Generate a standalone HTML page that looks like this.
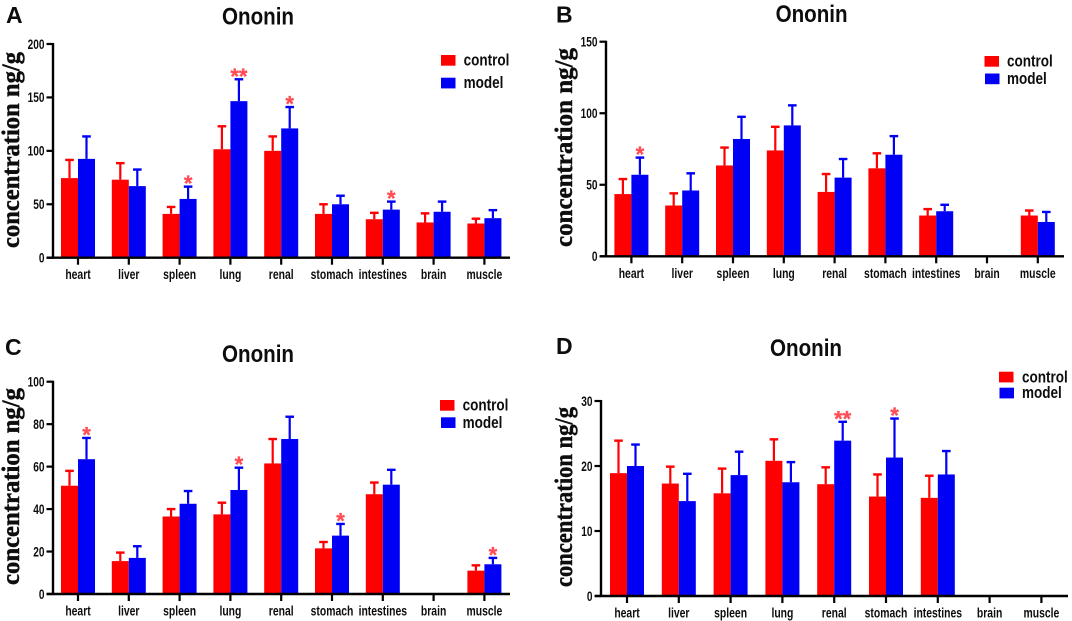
<!DOCTYPE html>
<html lang="en">
<head>
<meta charset="utf-8">
<title>Ononin concentration charts</title>
<style>
html,body{margin:0;padding:0;background:#fff;width:1072px;height:621px;overflow:hidden}
svg{display:block}
text{font-family:"Liberation Sans",sans-serif;fill:#111}
</style>
</head>
<body>
<svg id="chart" xmlns="http://www.w3.org/2000/svg" width="1072" height="621" viewBox="0 0 1072 621">
<defs><filter id="soft" x="-2%" y="-2%" width="104%" height="104%"><feGaussianBlur stdDeviation="0.35"/></filter></defs>
<g id="root" filter="url(#soft)"></g>
</svg>
<script>
const categories = ['heart','liver','spleen','lung','renal','stomach','intestines','brain','muscle'];
const seriesNames = ['control','model'];

const controlA = [74.5,73,41,101.5,100,41,36,33,32];
const controlTopA = [91.5,88.5,47.5,123,113.5,50,42,41.5,36.5];
const modelA = [92.5,67,55,146.5,121,50,45,43,37];
const modelTopA = [113.5,82.5,66.5,167,141,58,52.5,52.5,44.5];
const starsA = ['','','*','**','*','','*','',''];
const ticksA = [0,50,100,150,200];

const controlB = [43.5,35.5,63.5,74,45,61.5,28.5,0,28.5];
const controlTopB = [54,44,76,90.5,57.5,72,33,0,32];
const modelB = [57,46,82,91.5,55,71,31.5,0,24];
const modelTopB = [69,58,97.5,105.5,68,84,36,0,31];
const starsB = ['*','','','','','','','',''];
const ticksB = [0,50,100,150];

const controlC = [51,15.5,36.5,37.5,61.5,21.5,47,0,11];
const controlTopC = [58,19.5,40,43,73,24.5,52.5,0,13.5];
const modelC = [63.5,17,42.5,49,73,27.5,51.5,0,14];
const modelTopC = [73.5,22.5,48.5,59.5,83.5,33,58.5,0,17];
const starsC = ['*','','','*','','*','','','*'];
const ticksC = [0,20,40,60,80,100];

const controlD = [18.9,17.3,15.8,20.8,17.2,15.3,15.1,0,0];
const controlTopD = [23.9,19.9,19.6,24.1,19.8,18.7,18.5,0,0];
const modelD = [20,14.6,18.6,17.5,23.9,21.3,18.7,0,0];
const modelTopD = [23.3,18.8,22.2,20.6,26.8,27.3,22.3,0,0];
const starsD = ['','','','','**','*','','',''];
const ticksD = [0,10,20,30];

const panels = [
 {id:'a',letter:'A',lx:6,ly:23,control:controlA,controlTop:controlTopA,model:modelA,modelTop:modelTopA,stars:starsA,ticks:ticksA,
  ax:53,top:44,zero:257.7,first:78,step:50.8,xl:46.5,xr:510,tx:258,ty:24.5,yx:19,yb:248,yl:196,
  sw:[441,55,441,77.7],lt:[463.6,65.7,88]},
 {id:'b',letter:'B',lx:556,ly:22.7,control:controlB,controlTop:controlTopB,model:modelB,modelTop:modelTopB,stars:starsB,ticks:ticksB,
  ax:606,top:41.7,zero:256.3,first:631.4,step:50.8,xl:600,xr:1064,tx:811.6,ty:22,yx:572,yb:247,yl:199,
  sw:[984.5,56,985,73.5],lt:[1007,66.7,84]},
 {id:'c',letter:'C',lx:5,ly:355,control:controlC,controlTop:controlTopC,model:modelC,modelTop:modelTopC,stars:starsC,ticks:ticksC,
  ax:53,top:381.7,zero:594,first:78,step:50.8,xl:46.5,xr:510,tx:258,ty:362,yx:19,yb:585,yl:197,
  sw:[440,400,441,417.3],lt:[462.6,410.7,428]},
 {id:'d',letter:'D',lx:556,ly:354,control:controlD,controlTop:controlTopD,model:modelD,modelTop:modelTopD,stars:starsD,ticks:ticksD,
  ax:601,top:401,zero:596,first:627,step:51.8,xl:595,xr:1068,tx:806,ty:356,yx:572,yb:587,yl:180,
  sw:[999,371.7,999.5,387.7],lt:[1022,382.3,398]}
];

const NS = 'http://www.w3.org/2000/svg';
const RED = '#ff0000', BLUE = '#0000f5', STAR = '#ff4d55';
const root = document.getElementById('root');

function mk(tag, attrs, parent, txt){
  const el = document.createElementNS(NS, tag);
  for (const k in attrs) el.setAttribute(k, attrs[k]);
  if (txt !== undefined) el.textContent = txt;
  parent.appendChild(el);
  return el;
}
function line(x1,y1,x2,y2,color,w,parent){
  return mk('line',{x1:x1,y1:y1,x2:x2,y2:y2,stroke:color,'stroke-width':w},parent);
}
function narrow(x,y,str,size,sx,anchor,parent){
  return mk('text',{transform:'translate('+x+','+y+') scale('+sx+',1)','font-size':size,'font-weight':'bold','text-anchor':anchor},parent,str);
}

panels.forEach(function(p){
  const g = mk('g',{},root);
  
  

  const maxV = p.ticks[p.ticks.length-1];
  const yScale = function(v){ return p.zero - (v/maxV)*(p.zero-p.top); };
  const xScale = function(i){ return p.first + i*p.step; };

  const letter = mk('text',{x:p.lx,y:p.ly,'font-size':23,'font-weight':'bold'},g,p.letter);
  
  

  const title = mk('text',{x:p.tx,y:p.ty,'font-size':24,'font-weight':'bold','text-anchor':'middle',textLength:72,lengthAdjust:'spacingAndGlyphs'},g,'Ononin');
  
  

  const yTitle = mk('text',{transform:'translate('+p.yx+','+p.yb+') rotate(-90)','font-size':25,'font-weight':'bold',textLength:p.yl,lengthAdjust:'spacingAndGlyphs',stroke:'#111','stroke-width':0.45,style:'font-family:"Liberation Serif",serif'},g,'concentration ng/g');
  
  

  // bars and error bars
  categories.forEach(function(cat,i){
    const c = xScale(i);
    const groups = [
      {name:'control',color:RED,val:p.control[i],topV:p.controlTop[i],x:c-17,w:17},
      {name:'model',color:BLUE,val:p.model[i],topV:p.modelTop[i],x:c,w:17}
    ];
    groups.forEach(function(s){
      const mid = s.x + s.w/2;
      if (s.topV > 0) {
        const err = line(mid,yScale(s.val),mid,yScale(s.topV),s.color,2.2,g);
        
        
        const cap = line(mid-4.3,yScale(s.topV),mid+4.3,yScale(s.topV),s.color,2.4,g);
        
        
      }
      const bar = mk('rect',{x:s.x,y:yScale(s.val),width:s.w,height:p.zero-yScale(s.val),fill:s.color},g);
      
      
    });
    if (p.stars[i]) {
      const star = mk('text',{x:c+8.5,y:yScale(p.modelTop[i])+4.5,'font-size':22,'font-weight':'bold','text-anchor':'middle',stroke:STAR,'stroke-width':0.3,style:'fill:'+STAR},g,p.stars[i]);
      
      
    }
  });

  // y axis
  const yAxis = line(p.ax,p.top-1,p.ax,p.zero+1,'#000',2.4,g);
  
  
  p.ticks.forEach(function(t){
    const y = yScale(t);
    const tick = line(p.ax-6.5,y,p.ax,y,'#000',2.2,g);
    
    
    const lab = narrow(p.ax-8.5,y+4.8,String(t),13.5,0.75,'end',g);
    
    
  });

  // x axis
  const xAxis = line(p.xl,p.zero,p.xr,p.zero,'#000',2.4,g);
  
  
  categories.forEach(function(cat,i){
    const c = xScale(i);
    const tick = line(c,p.zero,c,p.zero+7,'#000',2.2,g);
    
    
    const lab = narrow(c,p.zero+21.5,cat,13.5,0.77,'middle',g);
    
    
  });

  // legend
  const lg = mk('g',{},g);
  
  
  seriesNames.forEach(function(n,k){
    const sw = mk('rect',{x:p.sw[k*2],y:p.sw[k*2+1],width:14.5,height:10.7,fill:k?BLUE:RED},lg);
    
    
    const tx = narrow(p.lt[0],p.lt[k+1],n,16.5,0.82,'start',lg);
    
    
  });
});
</script>
</body>
</html>
